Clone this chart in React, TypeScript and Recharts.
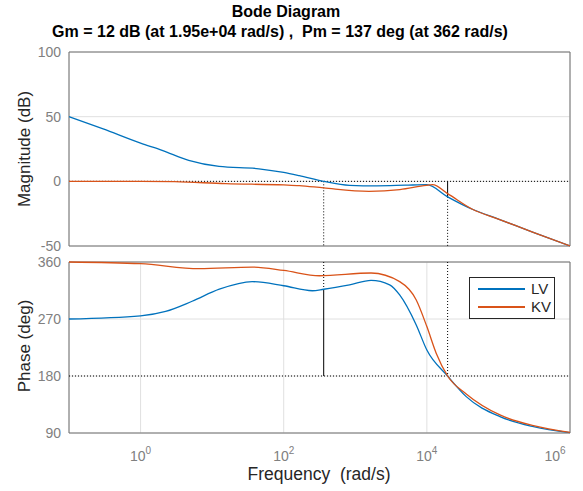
import React from "react";
import {
  LineChart,
  Line,
  XAxis,
  YAxis,
  CartesianGrid,
  ReferenceLine,
  ReferenceArea,
} from "recharts";

// frequencies in rad/s
const lvMagFreq = [0.1, 0.3, 1, 2, 4.7, 12.5, 45, 100, 165, 362, 830, 2000, 5000, 10000, 19500, 44000, 1e5, 3e5, 1e6];
const lvMagDb = [50, 40.5, 29.5, 24, 16.2, 11.5, 9.7, 6.9, 4.4, 0, -3.1, -3.5, -3, -2.6, -12, -21.8, -29.2, -39.2, -50];

const kvMagFreq = [0.1, 1, 3, 15.5, 100, 165, 362, 1550, 4200, 9800, 12000, 19500, 44000, 1e5, 3e5, 1e6];
const kvMagDb = [0, 0, -0.3, -1.8, -2.8, -3.3, -5.1, -7.7, -6.4, -3.1, -2.6, -9.5, -21.8, -29.2, -39.2, -50];

const lvPhaseFreq = [0.1, 1, 2.24, 5.25, 12.6, 36.3, 100, 251, 362, 832, 1660, 3020, 4170, 7080, 10000, 19500, 35500, 105000, 309000, 1e6];
const lvPhaseDeg = [270, 275, 282, 298, 317, 329, 322.5, 314.6, 317, 324, 331, 324, 308, 261, 221, 180, 147.4, 115.8, 100, 90.5];

const kvPhaseFreq = [0.1, 1, 6.6, 36.3, 100, 316, 1660, 4170, 7080, 10000, 13500, 19500, 35500, 105000, 309000, 1e6];
const kvPhaseDeg = [360, 357.3, 349.4, 352, 346.7, 338.3, 342.6, 329, 300.4, 258, 216, 180, 151.7, 118.5, 101.6, 91];

const freqTicks = [1, 100, 1e4, 1e6];
const magTicks = [-50, 0, 50, 100];
const phaseTicks = [90, 180, 270, 360];

// stability margins from the title
const gmFreq = 1.95e4;
const gmDb = -12;
const pmFreq = 362;
const pmPhase = 317;

const BLUE = "#0072BD";
const ORANGE = "#D95319";
const TICK = "#808080";
const LABEL = "#262626";
const GRID = "#e0e0e0";
const BOX = "#707070";
const FONT = "'Liberation Sans', Arial, sans-serif";

const rows = (w: number[], v: number[]) => w.map((x, i) => ({ w: x, v: v[i] }));

function FreqTick({ x, y, payload }: any) {
  const exp = Math.round(Math.log10(payload.value));
  return (
    <text x={x} y={y + 20} textAnchor="middle" fill={TICK} fontSize={14} fontFamily={FONT}>
      10
      <tspan dy={-7} fontSize={10}>
        {exp}
      </tspan>
    </text>
  );
}

const yTick = { fill: TICK, fontSize: 14, fontFamily: FONT };

export default function App() {
  return (
    <div style={{ position: "absolute", left: 0, top: 0, width: 583, height: 491, background: "#fff", fontFamily: FONT }}>
      <svg width={583} height={491} style={{ position: "absolute", left: 0, top: 0 }}>
        <text x={286} y={17} textAnchor="middle" fontWeight="bold" fontSize={16} fill="#000">
          Bode Diagram
        </text>
        <text x={280} y={37} textAnchor="middle" fontWeight="bold" fontSize={16} fill="#000" style={{ whiteSpace: "pre" }}>
          {"Gm = 12 dB (at 1.95e+04 rad/s) ,  Pm = 137 deg (at 362 rad/s)"}
        </text>
        <text x={0} y={0} transform="translate(30,149) rotate(-90)" textAnchor="middle" fontSize={17} fill={LABEL}>
          Magnitude (dB)
        </text>
        <text x={0} y={0} transform="translate(30,346) rotate(-90)" textAnchor="middle" fontSize={17} fill={LABEL}>
          Phase (deg)
        </text>
        <text x={319} y={480} textAnchor="middle" fontSize={17.5} fill={LABEL} style={{ whiteSpace: "pre" }}>
          {"Frequency  (rad/s)"}
        </text>
      </svg>

      <div style={{ position: "absolute", left: 0, top: 0 }}>
        <LineChart width={583} height={262} margin={{ top: 52, right: 13, bottom: 16, left: 8 }}>
          <CartesianGrid stroke={GRID} />
          <XAxis
            dataKey="w"
            type="number"
            scale="log"
            domain={[0.1, 1e6]}
            ticks={freqTicks}
            allowDataOverflow
            height={0}
            tick={false}
            tickLine={false}
            axisLine={false}
          />
          <YAxis type="number" domain={[-50, 100]} ticks={magTicks} width={61} tick={yTick} tickLine={false} axisLine={false} />
          <ReferenceLine y={0} stroke="#000" strokeDasharray="1 2" />
          <ReferenceLine segment={[{ x: pmFreq, y: 0 }, { x: pmFreq, y: -50 }]} stroke="#000" strokeDasharray="1 2" />
          <ReferenceLine segment={[{ x: gmFreq, y: gmDb }, { x: gmFreq, y: -50 }]} stroke="#000" strokeDasharray="1 2" />
          <ReferenceLine segment={[{ x: gmFreq, y: 0 }, { x: gmFreq, y: gmDb }]} stroke="#000" />
          <Line data={rows(lvMagFreq, lvMagDb)} dataKey="v" type="monotone" stroke={BLUE} strokeWidth={1.3} dot={false} isAnimationActive={false} />
          <Line data={rows(kvMagFreq, kvMagDb)} dataKey="v" type="monotone" stroke={ORANGE} strokeWidth={1.3} dot={false} isAnimationActive={false} />
          <ReferenceArea x1={0.1} x2={1e6} y1={-50} y2={100} fill="none" stroke={BOX} strokeWidth={1} />
        </LineChart>
      </div>

      <div style={{ position: "absolute", left: 0, top: 250 }}>
        <LineChart width={583} height={241} margin={{ top: 12, right: 13, bottom: 28, left: 8 }}>
          <CartesianGrid stroke={GRID} />
          <XAxis
            dataKey="w"
            type="number"
            scale="log"
            domain={[0.1, 1e6]}
            ticks={freqTicks}
            allowDataOverflow
            height={30}
            tick={<FreqTick />}
            tickLine={false}
            axisLine={false}
          />
          <YAxis type="number" domain={[90, 360]} ticks={phaseTicks} width={61} tick={yTick} tickLine={false} axisLine={false} />
          <ReferenceLine y={180} stroke="#000" strokeDasharray="1 2" />
          <ReferenceLine segment={[{ x: pmFreq, y: 360 }, { x: pmFreq, y: pmPhase }]} stroke="#000" strokeDasharray="1 2" />
          <ReferenceLine segment={[{ x: pmFreq, y: pmPhase }, { x: pmFreq, y: 180 }]} stroke="#000" />
          <ReferenceLine segment={[{ x: gmFreq, y: 360 }, { x: gmFreq, y: 180 }]} stroke="#000" strokeDasharray="1 2" />
          <Line data={rows(lvPhaseFreq, lvPhaseDeg)} dataKey="v" type="monotone" stroke={BLUE} strokeWidth={1.3} dot={false} isAnimationActive={false} />
          <Line data={rows(kvPhaseFreq, kvPhaseDeg)} dataKey="v" type="monotone" stroke={ORANGE} strokeWidth={1.3} dot={false} isAnimationActive={false} />
          <ReferenceArea x1={0.1} x2={1e6} y1={90} y2={360} fill="none" stroke={BOX} strokeWidth={1} />
        </LineChart>
      </div>

      <div
        style={{
          position: "absolute",
          left: 469,
          top: 277,
          width: 86,
          height: 42,
          boxSizing: "border-box",
          border: `1px solid ${LABEL}`,
          background: "#fff",
          fontSize: 15,
          color: LABEL,
        }}
      >
        {[
          { name: "LV", color: BLUE, top: 2 },
          { name: "KV", color: ORANGE, top: 20 },
        ].map((it) => (
          <div key={it.name} style={{ position: "absolute", left: 8, top: it.top, height: 18, display: "flex", alignItems: "center" }}>
            <div style={{ width: 47, height: 2, background: it.color }} />
            <span style={{ marginLeft: 6, lineHeight: "18px" }}>{it.name}</span>
          </div>
        ))}
      </div>
    </div>
  );
}
